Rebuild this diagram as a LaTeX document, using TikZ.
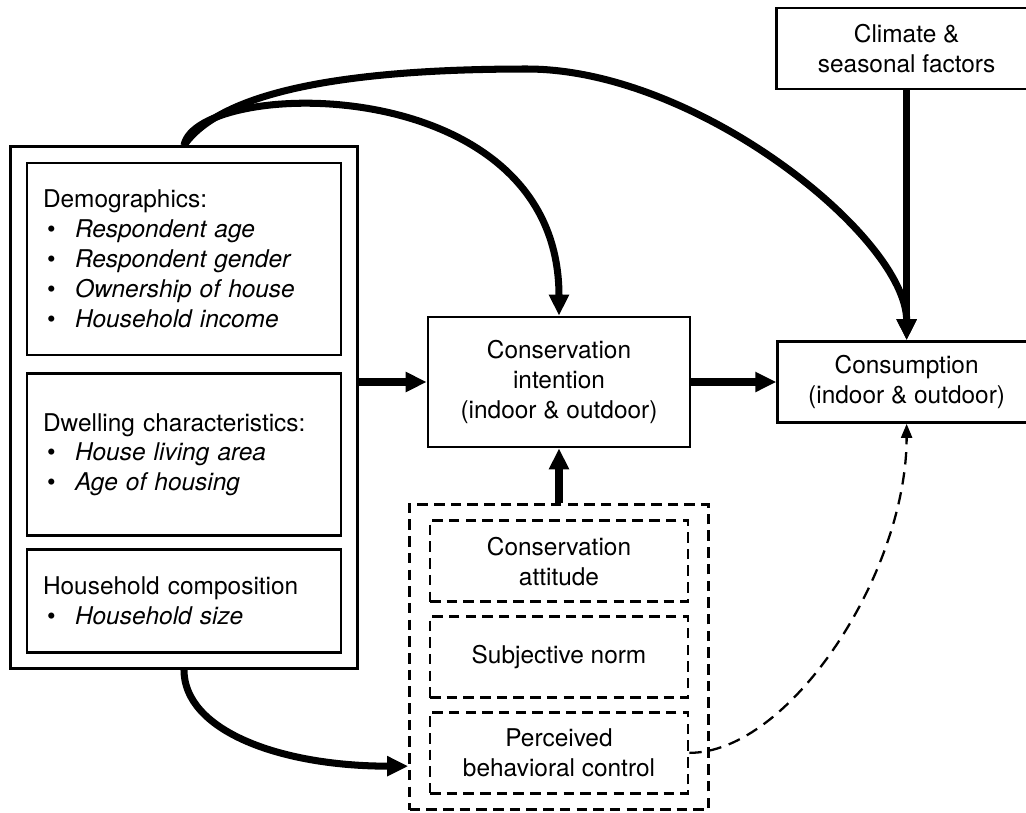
\documentclass[tikz,border=0pt]{standalone}
\usepackage{fontspec}
\setmainfont{TeX Gyre Heros}
\usepackage{tikz}
\usetikzlibrary{positioning,fit,arrows.meta}
\tikzstyle{factor}=[rectangle, draw=black, line width=1.5pt, align=left, text width=5.64cm, inner xsep=0.32cm, inner ysep=0cm]
\tikzstyle{block}=[rectangle, draw=black, line width=1.5pt, align=center, inner sep=0cm]
\tikzstyle{dashbox}=[rectangle, draw=black, line width=1.6pt, dash pattern=on 6pt off 3.5pt]
\tikzstyle{tpb}=[dashbox, align=center, inner sep=0cm, minimum width=5.16cm, minimum height=1.62cm]
\tikzstyle{link}=[line width=4pt, ->]
\tikzstyle{dashlink}=[line width=1.3pt, dash pattern=on 7pt off 4.5pt, -{Triangle[length=0.28cm,width=0.22cm]}]
\tikzset{>={Triangle[length=0.42cm,width=0.38cm]}}
\newcommand{\bul}[1]{\makebox[0.64cm][l]{\hspace{0.08cm}\textbullet}\textit{#1}}

\begin{document}
\begin{tikzpicture}[font=\fontsize{13.9}{17}\selectfont]
    \useasboundingbox (0,0) rectangle (20.52,-16.24);

        % left column
        \node(demo)[factor, minimum height=3.84cm] at (3.68,-5.18) {Demographics:\\ \bul{Respondent age}\\ \bul{Respondent gender}\\ \bul{Ownership of house}\\ \bul{Household income}};
        \node(dwell)[factor, minimum height=3.24cm, below=0.32cm of demo] {Dwelling characteristics:\\ \bul{House living area}\\ \bul{Age of housing}};
        \node(hh)[factor, minimum height=2.06cm, below=0.22cm of dwell] {Household composition\\ \bul{Household size}};
        \node(outer)[draw=black, line width=1.5pt, inner sep=0.3cm, fit=(demo) (dwell) (hh)] {};

        \node(intention)[block, minimum width=5.24cm, minimum height=2.6cm] at (11.18,-7.64) {Conservation\\intention\\(indoor \& outdoor)};
        \node(cons)[block, minimum width=5.16cm, minimum height=1.62cm, right=1.7cm of intention] {Consumption\\(indoor \& outdoor)};
        \node(climate)[block, minimum width=5.2cm, minimum height=1.62cm, above=5.0cm of cons] {Climate \&\\seasonal factors};

        % dashed group
        \node(att)[tpb, below=1.42cm of intention] {Conservation\\attitude};
        \node(norm)[tpb, below=0.24cm of att] {Subjective norm};
        \node(pbc)[tpb, below=0.24cm of norm] {Perceived\\behavioral control};
        \node(tpbgroup)[dashbox, inner xsep=0.38cm, inner ysep=0.3cm, fit=(att) (pbc)] {};

        \draw [link] (outer.east |- intention.west) -- (intention.west);
        \draw [link] (intention) -- (cons);
        \draw [link] (climate) -- (cons);
        \draw [link] (tpbgroup) -- (intention);

        \coordinate (peak) at (10.54,-1.38);
        \coordinate (tpbin) at ([yshift=0.9cm]tpbgroup.south west);
        \draw [link] (outer.north) .. controls +(0.26,1.36) and +(0,4.94) .. (intention.north);
        \draw [link] (outer.north) .. controls +(0.68,0.98) and +(-4,0) .. (peak) .. controls +(3.42,0) and +(0,2.04) .. (cons.north);
        \draw [link] (outer.south) .. controls +(0,-1.2) and +(-2.6,0) .. (tpbin);

        \draw [dashlink] (pbc.east) .. controls +(2.0,0) and +(0,-3.0) .. (cons.south);

    \end{tikzpicture}
\end{document}
